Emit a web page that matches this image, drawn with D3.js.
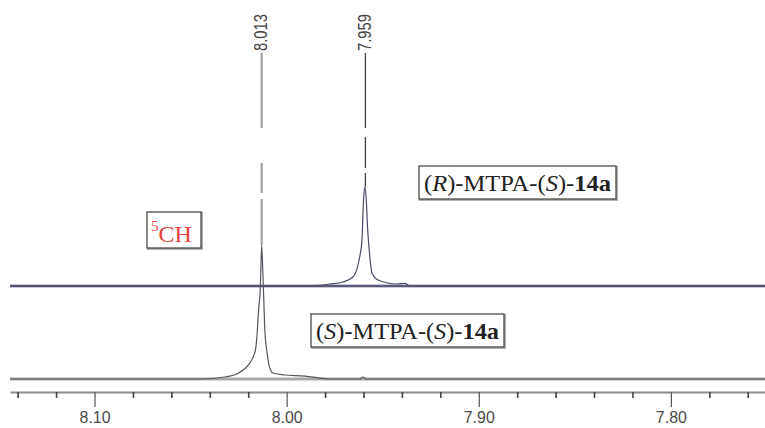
<!DOCTYPE html>
<html>
<head>
<meta charset="utf-8">
<script src="https://cdn.jsdelivr.net/npm/d3@7"></script>
<style>
  body { margin: 0; background: #fff; }
  svg { display: block; }
</style>
</head>
<body>
<div id="nmr"></div>
<script>
// (S)-MTPA ester, lower trace
let sPpm = [8.144, 8.045, 8.032, 8.025, 8.020, 8.0165, 8.0154, 8.0149, 8.0144, 8.0138, 8.0134, 8.0130,
            8.0124, 8.0118, 8.0113, 8.0102, 8.0092, 8.0071, 8.0009, 7.9904, 7.9826, 7.9774,
            7.9618, 7.9602, 7.9587, 7.751];
let sInt = [0, 0, 1.5, 4.5, 10.4, 20, 33, 45, 55, 65, 82, 100,
            80, 55, 35, 20, 10.4, 4.5, 3, 2.2, 0.7, 0,
            0, 1.5, 0, 0];

// (R)-MTPA ester, upper trace
let rPpm = [8.144, 7.990, 7.9774, 7.9707, 7.9655, 7.9623, 7.9608, 7.9600, 7.9593, 7.9585, 7.9579,
            7.9569, 7.9556, 7.9524, 7.9425, 7.9384, 7.9358, 7.751];
let rInt = [0, 0, 1.5, 3, 6.7, 19.4, 34, 63, 74, 63, 44,
            25, 9.7, 4.5, 1.5, 2, 0, 0];

let peakPpm = [8.013, 7.959];
let peakLabels = ["8.013", "7.959"];
let majorTicks = [8.10, 8.00, 7.90, 7.80];
let minorTicks = [8.14, 8.12, 8.08, 8.06, 8.04, 8.02, 7.98, 7.96, 7.94, 7.92,
                  7.88, 7.86, 7.84, 7.82, 7.78, 7.76];

let larg = 765;
let alt = 428;

let canvas = d3.select("#nmr")
               .append("svg")
               .attr("width", larg)
               .attr("height", alt)
               .style("background", "#fff");

let x = d3.scaleLinear()
          .domain([8.144, 7.751])
          .range([10, 765]);

let yS = d3.scaleLinear().domain([0, 100]).range([379, 245]);
let yR = d3.scaleLinear().domain([0, 100]).range([286, 152]);

let sData = sPpm.map((p, i) => ({ppm: p, v: sInt[i]}));
let rData = rPpm.map((p, i) => ({ppm: p, v: rInt[i]}));

// baselines (drawn heavier, like the scan)
canvas.append("line")
      .attr("x1", x(sPpm[0])).attr("x2", x(sPpm[sPpm.length - 1]))
      .attr("y1", yS(0)).attr("y2", yS(0))
      .attr("stroke", "#a9a9a9").attr("stroke-width", 3);

canvas.append("line")
      .attr("x1", x(rPpm[0])).attr("x2", x(rPpm[rPpm.length - 1]))
      .attr("y1", yR(0)).attr("y2", yR(0))
      .attr("stroke", "#9a9ab4").attr("stroke-width", 3);
canvas.append("line")
      .attr("x1", x(rPpm[0])).attr("x2", x(rPpm[rPpm.length - 1]))
      .attr("y1", yR(0)).attr("y2", yR(0))
      .attr("stroke", "#45456a").attr("stroke-width", 1.4);

// peak pick markers
let apex = [yS(d3.max(sInt)), yR(d3.max(rInt))];
let dashes = ["75,35,30,6,400", "75,9,31,5,400"];
let markColor = ["#9c9c9c", "#3c4640"];
let markWidth = [2, 1.3];

canvas.selectAll(".mark")
      .data(peakPpm)
      .enter()
        .append("line")
        .attr("class", "mark")
        .attr("x1", d => x(d)).attr("x2", d => x(d))
        .attr("y1", 53)
        .attr("y2", (d, i) => apex[i])
        .attr("stroke", (d, i) => markColor[i])
        .attr("stroke-width", (d, i) => markWidth[i])
        .attr("stroke-dasharray", (d, i) => dashes[i]);

canvas.selectAll(".plabel")
      .data(peakPpm)
      .enter()
        .append("text")
        .attr("class", "plabel")
        .attr("transform", d => "translate(" + (x(d) - 1) + ",51) rotate(-90)")
        .attr("dy", "0.36em")
        .attr("textLength", 37)
        .attr("lengthAdjust", "spacingAndGlyphs")
        .style("font", "18px 'Liberation Sans', Arial, sans-serif")
        .attr("fill", "#444")
        .text((d, i) => peakLabels[i]);

// traces
let line = d3.line()
             .x(d => x(d.ppm))
             .curve(d3.curveMonotoneX);

canvas.append("path")
      .datum(sData)
      .attr("d", line.y(d => yS(d.v)))
      .attr("fill", "none")
      .attr("stroke", "#55555f")
      .attr("stroke-width", 1.2);

canvas.append("path")
      .datum(rData)
      .attr("d", line.y(d => yR(d.v)))
      .attr("fill", "none")
      .attr("stroke", "#4a4a66")
      .attr("stroke-width", 1.2);

// ppm axis
let axis = canvas.append("g")
      .attr("transform", "translate(0,392)")
      .call(d3.axisBottom(x)
              .tickValues(majorTicks)
              .tickSize(15)
              .tickSizeOuter(0)
              .tickPadding(4)
              .tickFormat(d3.format(".2f")));

axis.select(".domain")
    .attr("stroke", "#8c8c8c")
    .attr("stroke-width", 2.2);
axis.selectAll(".tick line")
    .attr("stroke", "#555")
    .attr("stroke-width", 1.2);
axis.selectAll(".tick text")
    .style("font", "17px 'Liberation Sans', Arial, sans-serif")
    .attr("textLength", 31)
    .attr("lengthAdjust", "spacingAndGlyphs")
    .attr("fill", "#4a4a4a");

let minor = canvas.append("g")
      .attr("transform", "translate(0,392)")
      .call(d3.axisBottom(x)
              .tickValues(minorTicks)
              .tickSize(6)
              .tickSizeOuter(0)
              .tickFormat(""));
minor.select(".domain").remove();
minor.selectAll(".tick line")
     .attr("stroke", "#444")
     .attr("stroke-width", 1.6);

// boxed annotations
function caixa(px, py, w, h) {
    canvas.append("rect")
          .attr("x", px + 1).attr("y", py + 1)
          .attr("width", w).attr("height", h)
          .attr("fill", "none")
          .attr("stroke", "#b0b0b0").attr("stroke-width", 2);
    canvas.append("rect")
          .attr("x", px).attr("y", py)
          .attr("width", w).attr("height", h)
          .attr("fill", "#fff")
          .attr("stroke", "#4c4c44").attr("stroke-width", 1.3);
}

function rotulo(px, py, cfg, len) {
    caixa(px, py, len + 10, 33);
    let t = canvas.append("text")
          .attr("x", px + 5)
          .attr("y", py + 25)
          .style("font-family", "'Liberation Serif', 'Times New Roman', serif")
          .style("font-size", "23px")
          .attr("fill", "#222")
          .attr("textLength", len)
          .attr("lengthAdjust", "spacingAndGlyphs");
    cfg.forEach(function(p) {
        t.append("tspan")
         .style("font-style", p[1] == "i" ? "italic" : "normal")
         .style("font-weight", p[1] == "b" ? "bold" : "normal")
         .text(p[0]);
    });
}

rotulo(419, 166, [["(", ""], ["R", "i"], [")-MTPA-(", ""], ["S", "i"], [")-", ""], ["14a", "b"]], 187);
rotulo(311, 314, [["(", ""], ["S", "i"], [")-MTPA-(", ""], ["S", "i"], [")-", ""], ["14a", "b"]], 183);

caixa(147, 212, 54, 36);
let ch = canvas.append("text")
      .attr("x", 151)
      .attr("y", 242)
      .style("font-family", "'Liberation Serif', 'Times New Roman', serif")
      .attr("fill", "#e8433c");
ch.append("tspan")
  .attr("dy", -11)
  .style("font-size", "15px")
  .text("5");
ch.append("tspan")
  .attr("dy", 11)
  .style("font-size", "24px")
  .text("CH");
</script>
</body>
</html>
